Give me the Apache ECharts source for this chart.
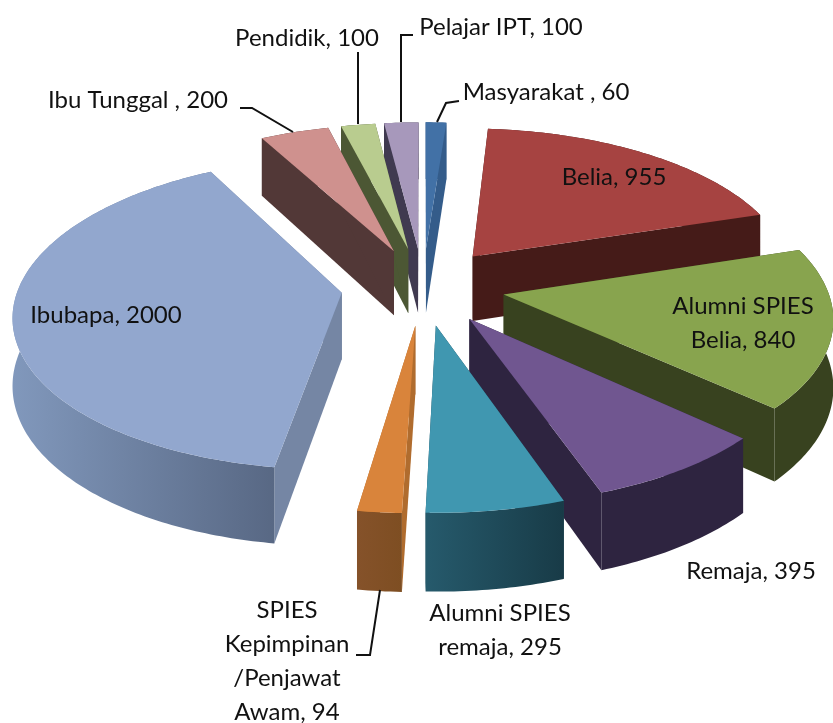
<!DOCTYPE html>
<html>

<head>
    <meta charset="utf-8" />
    <script type="text/javascript" src="https://cdn.jsdelivr.net/npm/echarts@6/dist/echarts.min.js"></script>
    <title></title>
    <style>
        html, body { margin: 0; padding: 0; background: #fff; }
        #main { width: 833px; height: 723px; }
    </style>
</head>

<body>
    <div id="main"></div>
    <script type="text/javascript">
    // data, clockwise from the top
    var categories = ['Masyarakat ', 'Belia', 'Alumni SPIES\nBelia', 'Remaja', 'Alumni SPIES\nremaja',
        'SPIES\nKepimpinan\n/Penjawat\nAwam', 'Ibubapa', 'Ibu Tunggal ', 'Pendidik', 'Pelajar IPT'];
    var values = [60, 955, 840, 395, 295, 94, 2000, 200, 100, 100];

    // colours: top face, cut face, outer wall left, outer wall right
    var topColors = ['#4271a6', '#a64341', '#88a44e', '#705690', '#4097b0', '#d9843b', '#92a7ce', '#cf918e', '#b9cc8f', '#a798bb'];
    var cutColors = ['#345c8a', '#451b18', '#38421f', '#2e2440', '#1f4a58', '#b06c2e', '#7586a4', '#523837', '#4c5734', '#403a50'];
    var wallLeft = ['#345c8a', '#451b18', '#38421f', '#2e2440', '#265a6c', '#85522a', '#8198bc', '#523837', '#4c5734', '#403a50'];
    var wallRight = ['#345c8a', '#451b18', '#38421f', '#2e2440', '#183b47', '#7e4e22', '#586884', '#523837', '#4c5734', '#403a50'];

    // label anchors [x, y], text centred on them
    var labelPos = [[546, 92], [614, 177], [743, 323], [751, 571], [500, 630], [287, 661], [106, 315], [138, 100], [307, 38], [501, 27]];
    var leaders = [
        [[437, 122], [446, 103], [459, 101]],
        null, null, null, null,
        [[380, 590], [370, 655], [356, 655]],
        null,
        [[293, 132], [252, 108], [240, 108]],
        [[358, 124], [358, 52]],
        [[401, 122], [401, 35], [413, 35]]
    ];

    // 3D projection of the pie plane
    var cx = 423, cy = 286;
    var R = 323, explode = 82, tilt = 0.47, persp = 0.13, depth = 66;
    var total = values.reduce(function(a, b) { return a + b; }, 0);

    function project(x, y, z) { // x,y in pie plane (y toward the viewer), z downward
        var s = 1 / (1 - persp * y / R);
        return [cx + x * s, cy + tilt * y * s + z * s];
    }

    function sliceShapes(i) {
        var before = 0;
        for (var j = 0; j < i; j++) before += values[j];
        var a0 = before / total * 2 * Math.PI;
        var a1 = (before + values[i]) / total * 2 * Math.PI;
        var mid = (a0 + a1) / 2;
        var ax = explode * Math.sin(mid), ay = -explode * Math.cos(mid);
        var arcTop = [], arcBot = [];
        var n = Math.max(2, Math.ceil((a1 - a0) / 0.015));
        for (var k = 0; k <= n; k++) {
            var a = a0 + (a1 - a0) * k / n;
            var x = ax + R * Math.sin(a), y = ay - R * Math.cos(a);
            arcTop.push(project(x, y, 0));
            arcBot.push(project(x, y, depth));
        }
        return {
            apexTop: project(ax, ay, 0),
            apexBot: project(ax, ay, depth),
            arcTop: arcTop,
            arcBot: arcBot,
            mid: mid
        };
    }

    function renderSlice(params, api) {
        var i = params.dataIndex;
        var p = sliceShapes(i);
        // back slices first
        var z = Math.round((1 - Math.cos(p.mid)) * 100);
        var last = p.arcTop.length - 1;
        var children = [];
        children.push({
            type: 'polygon',
            z2: z,
            shape: { points: [p.apexTop, p.arcTop[0], p.arcBot[0], p.apexBot] },
            style: { fill: cutColors[i] }
        });
        children.push({
            type: 'polygon',
            z2: z,
            shape: { points: [p.apexTop, p.arcTop[last], p.arcBot[last], p.apexBot] },
            style: { fill: cutColors[i] }
        });
        children.push({
            type: 'polygon',
            z2: z + 1,
            shape: { points: p.arcTop.concat(p.arcBot.slice().reverse()) },
            style: {
                fill: new echarts.graphic.LinearGradient(0, 0, 1, 0, [
                    { offset: 0, color: wallLeft[i] },
                    { offset: 1, color: wallRight[i] }
                ])
            }
        });
        children.push({
            type: 'polygon',
            z2: z + 2,
            shape: { points: [p.apexTop].concat(p.arcTop) },
            style: { fill: topColors[i] }
        });
        if (leaders[i]) {
            children.push({
                type: 'polyline',
                z2: 500,
                shape: { points: leaders[i] },
                style: { fill: null, stroke: '#111', lineWidth: 2 }
            });
        }
        children.push({
            type: 'text',
            z2: 600,
            style: {
                x: labelPos[i][0],
                y: labelPos[i][1],
                text: categories[i] + ', ' + api.value(0),
                font: '24px Lato, "Open Sans", sans-serif',
                fill: '#111',
                align: 'center',
                verticalAlign: 'middle',
                lineHeight: 34
            }
        });
        return { type: 'group', children: children };
    }

    var myChart = echarts.init(document.getElementById('main'));
    myChart.setOption({
        animation: false,
        backgroundColor: '#fff',
        series: [{
            type: 'custom',
            coordinateSystem: 'none',
            renderItem: renderSlice,
            data: values.map(function(v, i) { return { name: categories[i], value: [v] }; })
        }]
    });
    </script>
</body>

</html>
